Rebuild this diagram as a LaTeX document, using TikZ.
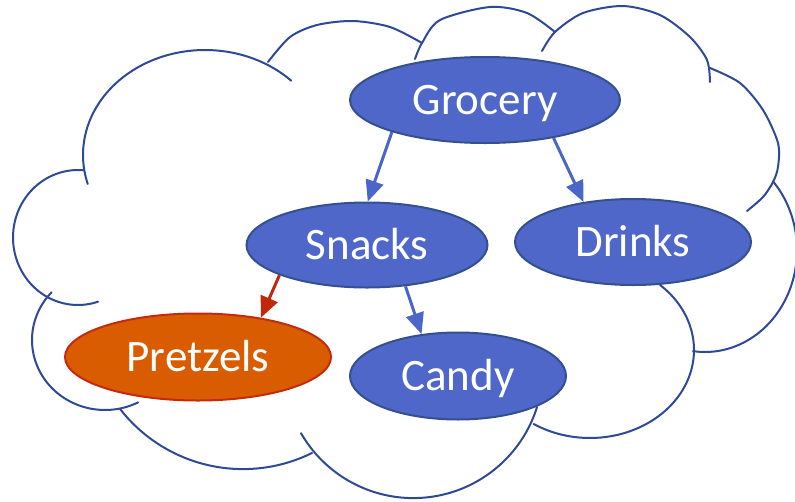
\documentclass[tikz,border=0pt]{standalone}
\usepackage{fontspec}
\setmainfont{Carlito}
\usetikzlibrary{shapes.geometric, arrows.meta}
\definecolor{nodeblue}{HTML}{4F67C9}
\definecolor{nodeedge}{HTML}{34508F}
\definecolor{cloudblue}{HTML}{2E4A96}
\definecolor{linkblue}{HTML}{4A66C8}
\definecolor{hotfill}{HTML}{D95D00}
\definecolor{hotedge}{HTML}{C42A0E}
\definecolor{linkred}{HTML}{C0280C}
\tikzset{
  catnode/.style={ellipse, draw=nodeedge, line width=2pt, fill=nodeblue, text=white, inner sep=0pt, font=\fontsize{45}{50}\selectfont, text height=29pt, text depth=0pt},
  hotnode/.style={catnode, draw=hotedge, fill=hotfill},
  link/.style={-{Triangle[length=21pt, width=18pt]}, line width=3pt, draw=linkblue},
  hotlink/.style={link, draw=linkred},
  cloudline/.style={draw=cloudblue, line width=2pt, line cap=round}
}
\begin{document}
\begin{tikzpicture}[x=1pt, y=-1pt]
  \useasboundingbox (0,0) rectangle (795,501);

  \draw[cloudline] plot[smooth, samples=40, domain=164:315] ({205+122*cos(\x)}, {155+105*sin(\x)});
  \draw[cloudline] plot[smooth, samples=40, domain=72:275] ({78+65*cos(\x)}, {237.5+67.5*sin(\x)});
  \draw[cloudline] plot[smooth, samples=40, domain=63:223] ({105+73*cos(\x)}, {340+70*sin(\x)});
  \draw[cloudline] plot[smooth, samples=30, domain=63.7:142.1] ({243+155.8*cos(\x)}, {313.3+155.8*sin(\x)});
  \draw[cloudline] plot[smooth, samples=40, domain=17.3:150.1] ({413.3+129.6*cos(\x)}, {368.5+129.6*sin(\x)});
  \draw[cloudline] plot[smooth, samples=40, domain=-47.7:122.8] ({590+104*cos(\x)}, {350+88*sin(\x)});
  \draw[cloudline] plot[smooth, samples=40, domain=-42:97.5] ({705+92*cos(\x)}, {250+102*sin(\x)});
  \draw[cloudline] plot[smooth] coordinates {(710,68) (740,83) (763,110) (778,143) (778,167) (773,182) (763,197) (747,211)};
  \draw[cloudline] plot[smooth] coordinates {(542,51) (555,32) (583,13) (623,6) (660,15) (690,37) (707,60) (710,82)};
  \draw[cloudline] plot[smooth] coordinates {(415,59) (422,43) (440,20) (490,7) (527,13) (555,32)};
  \draw[cloudline] plot[smooth] coordinates {(268,62) (290,37) (317,25) (353,21) (390,27) (422,43)};

  \node[catnode, minimum width=270pt, minimum height=86pt] (grocery) at (485,100) {Grocery};
  \node[catnode, minimum width=241pt, minimum height=85pt] (snacks) at (367,245) {Snacks};
  \node[catnode, minimum width=236pt, minimum height=86pt] (drinks) at (633,242) {Drinks};
  \node[hotnode, minimum width=266pt, minimum height=87pt] (pretzels) at (198,357) {Pretzels};
  \node[catnode, minimum width=216pt, minimum height=87pt] (candy) at (458,376) {Candy};

  \draw[link] (grocery.199) -- (snacks.89);
  \draw[link] (grocery.331) -- (drinks.141);
  \draw[hotlink] (snacks.199) -- (pretzels.32);
  \draw[link] (snacks.313) -- (candy.131);
\end{tikzpicture}
\end{document}
